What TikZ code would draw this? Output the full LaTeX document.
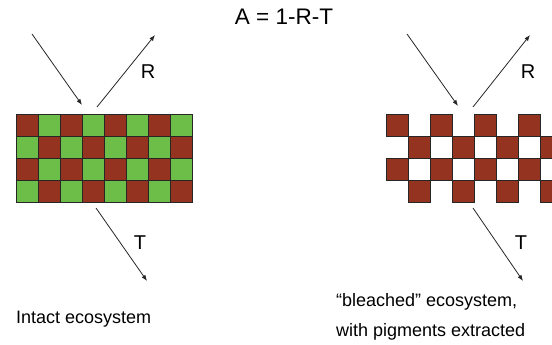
\documentclass[tikz,border=0pt]{standalone}
\usepackage{fontspec}
\setmainfont{Liberation Sans}
\usetikzlibrary{arrows.meta}
\definecolor{pigment}{RGB}{148,52,32}
\definecolor{chloro}{RGB}{108,190,72}

\begin{document}
\begin{tikzpicture}[x=1pt, y=-1pt,
    ray/.style={-{Latex[length=6pt,width=4.5pt]}, line width=0.8pt, draw=black!85},
    cell/.style={draw=black!85, line width=0.8pt},
    sym/.style={font=\fontsize{20}{24}\selectfont, inner sep=0pt, anchor=base},
    caption/.style={font=\fontsize{18}{26}\selectfont, align=left, inner sep=0pt},
]
    \useasboundingbox (0,0) rectangle (552,345);
    \clip (0,0) rectangle (552,345);

    \node[sym, font=\fontsize{22.5}{26}\selectfont] (formula) at (284,25) {A = 1-R-T};

    % intact canopy: pigment and green cells
    \foreach \c in {0,...,7}
      \foreach \r in {0,...,3} {
        \pgfmathtruncatemacro{\odd}{mod(\c+\r,2)}
        \ifnum\odd=0 \def\tint{pigment}\else\def\tint{chloro}\fi
        \draw[cell, fill=\tint] (16+22*\c,114+22*\r) rectangle ++(22,22);
      }

    % bleached canopy: green cells removed
    \foreach \c in {0,...,7}
      \foreach \r in {0,...,3} {
        \pgfmathtruncatemacro{\odd}{mod(\c+\r,2)}
        \ifnum\odd=0
          \draw[cell, fill=pigment] (386+22*\c,114+22*\r) rectangle ++(22,22);
        \fi
      }

    \coordinate (sunL) at (32,34);
    \coordinate (hitL) at (82,105);
    \coordinate (bounceL) at (97,107);
    \coordinate (upL) at (155,35);
    \coordinate (passL) at (96,208);
    \coordinate (downL) at (147,281);
    \draw[ray] (sunL) -- (hitL);
    \draw[ray] (bounceL) -- (upL);
    \draw[ray] (passL) -- (downL);
    \node[sym] (reflL) at (148,79) {R};
    \node[sym] (transL) at (140,249) {T};

    \coordinate (sunR) at (407,34);
    \coordinate (hitR) at (458,106);
    \coordinate (bounceR) at (473,107);
    \coordinate (upR) at (530,35);
    \coordinate (passR) at (473,208);
    \coordinate (downR) at (523,281);
    \draw[ray] (sunR) -- (hitR);
    \draw[ray] (bounceR) -- (upR);
    \draw[ray] (passR) -- (downR);
    \node[sym] (reflR) at (528,79) {R};
    \node[sym] (transR) at (521,249) {T};

    \node[caption, anchor=base west] (intact) at (16,323) {Intact ecosystem};
    \node[caption, anchor=base west] (bleached) at (336,336)
        {“bleached” ecosystem,\\[4pt]with pigments extracted};

\end{tikzpicture}
\end{document}
